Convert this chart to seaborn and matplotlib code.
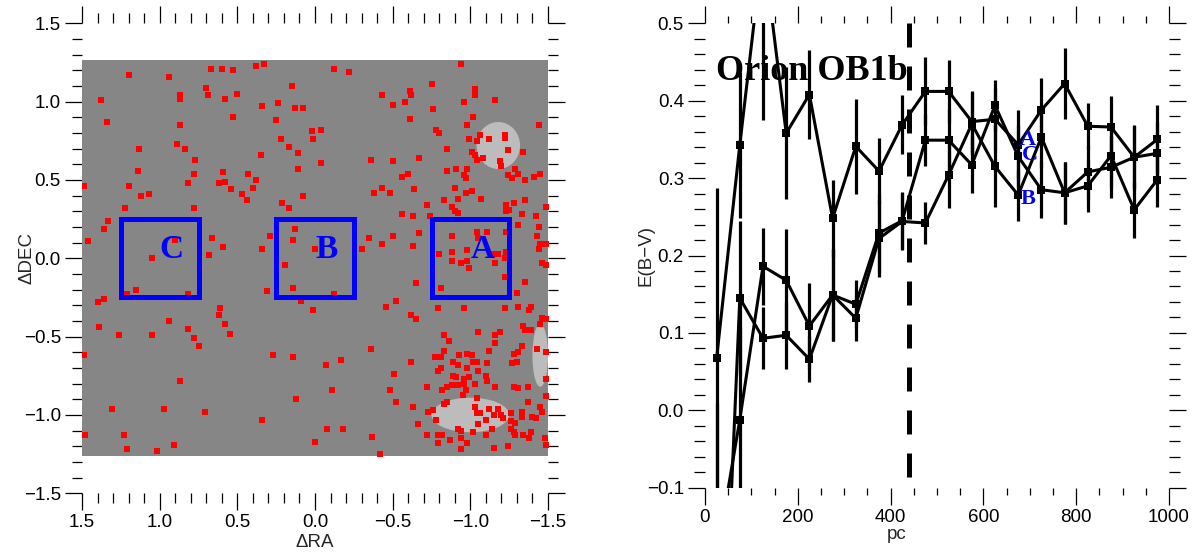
import matplotlib
matplotlib.use("Agg")
import matplotlib.pyplot as plt
import seaborn as sns
import pandas as pd
from matplotlib.patches import Rectangle, Ellipse
from matplotlib.ticker import MultipleLocator, FuncFormatter

# ---------------- data: left panel ----------------
field_ra = [-1.5, 1.5]
field_dec = [-1.26, 1.265]
# low-density (sparse) patches in the star field
void_ra = [-1.18, -1.0, -1.45]
void_dec = [0.72, -1.0, -0.62]
void_w = [0.28, 0.5, 0.1]
void_h = [0.30, 0.22, 0.4]

red_ra = [
    1.20, 0.94, 0.67, 0.60, 0.53, 0.38, 0.33, 1.38, 1.34, 0.87, 0.87, 0.70, 0.69, 0.58, 0.50, 0.34, 0.24, 0.15, 0.13, 0.08,
    0.53, 0.25, 0.87, 0.02, 0.01, 0.89, 0.84, 1.13, 0.77, 0.22, 0.17, 0.11, 0.35, 1.14, 0.78, 0.59, 0.43, 0.38, 0.11, 1.49,
    1.20, 0.82, 0.62, 0.58, 0.40, 0.54, 0.47, 0.44, 1.07, 1.12, 0.08, 1.22, 0.78, 0.21, 0.17, 1.33, 1.36, 1.46, 0.90, 0.66,
    0.59, 0.68, 0.34, 0.29, 0.13, 0.14, 1.05,
    -0.12, -0.22, -0.94, -0.75, -1.03, -1.03, -0.43, -0.61, -0.62, -0.50, -0.58, -0.76, -0.96, -1.16, -0.61, -1.02, -0.98,
    -1.44, -0.04, -0.78, -0.80, -0.99, -1.04, -1.06, -1.12, -1.22, -1.22, -0.85, -1.01, -1.03, -1.04, -1.08, -1.24, -1.34,
    -0.04, -0.36, -0.50, -0.67, -1.19, -1.20, -1.29, -0.85, -0.91, -0.98, -0.96, -0.97, -1.24, -1.27, -1.31, -1.35, -1.41,
    -1.45, -0.60, -0.56, -0.43, -0.38, -0.48, -0.64, -0.90, -0.97, -1.01, -0.92, -1.07, -0.83, -0.72, -0.88, -0.90, -0.92,
    -1.23, -1.25, -1.28, -1.35, -1.33, -1.23, -1.49, -0.56, -0.63, -0.74, -1.42, -1.31, -1.44, -0.67, -0.50, -0.35, -0.43,
    -0.63, -0.30, 0.00, -0.88, -1.04, -1.11, -1.23, -1.43, -1.45, -1.49, -1.44, -0.80, -0.88, -0.98, -1.14, -1.18, -1.23,
    -1.05,
    1.15, 1.21, 1.36, 1.40, 0.82, 0.61, 0.62, 0.58, 0.55, 1.39, 1.26, 1.05, 0.94, 0.82, 0.78, 0.75, 1.49, 0.19, 0.14, 0.31,
    0.09, 0.01, 0.27, 0.14, 0.87, 0.12, 1.31, 0.97, 0.71, 0.34, 1.48, 1.23, 0.91, 1.21, 1.02, 0.00,
    -0.94, -0.98, -0.99, -1.16, -1.22, -0.88, -1.22, -0.81, -0.65, -1.46, -1.49, -1.35, -1.30, -0.12, -0.52, -0.46, -0.62,
    -0.65, -0.79, -0.96, -1.22, -1.31, -1.38, -1.39, -1.46, -1.49, -1.45, -1.34, -1.35, -1.39, -1.05, -1.16, -1.19, -0.83,
    -0.86, -1.16, -1.33, -0.36, -0.83, -1.12, -1.43, -1.49, -1.28, -1.31, -0.77, -0.81, -0.93, -0.98, -1.01, -0.89, -1.02,
    -1.04, -1.11, -1.27, -1.30, -0.07, -0.17, -0.62, -0.81, -0.79, -0.92, -0.98, -1.05, -0.89, -0.91, -0.96, -0.99, -0.96,
    -1.10, -1.11, -1.03, -0.51, -0.85, -0.82, -0.88, -0.92, -0.97, -0.95, -1.16, -1.28, -1.31, -1.37, -1.49, -1.49, -0.48,
    -0.11, -0.72, -0.52, -0.63, -0.83, -0.85, -1.04, -1.37, -0.73, -0.76, -0.78, -1.03, -1.04, -1.06, -1.12, -1.18, -1.15,
    -1.10, -1.20, -1.21, -1.26, -1.26, -1.29, -1.33, -1.33, -1.40, -1.42, -1.45, -1.46, -0.66, -0.92, -0.94, -1.05, -1.02,
    -1.14, -1.26, -1.28, -1.29, -1.34, -1.39, -1.38, -1.48, -1.49, -0.72, -0.79, -0.82, -0.87, -0.79, -0.94, -0.98, -1.10,
    -0.94, -1.15, -1.24, -0.37, -0.42, -0.08, -0.18,
]
red_dec = [
    1.17, 1.16, 1.21, 1.21, 1.20, 1.23, 1.24, 1.01, 0.87, 1.04, 1.02, 1.09, 1.04, 1.02, 1.05, 0.97, 0.99, 1.10, 0.96, 0.96,
    0.90, 0.88, 0.85, 0.81, 0.76, 0.73, 0.70, 0.70, 0.63, 0.76, 0.71, 0.67, 0.66, 0.56, 0.54, 0.55, 0.54, 0.50, 0.57, 0.46,
    0.46, 0.48, 0.48, 0.49, 0.45, 0.44, 0.41, 0.37, 0.41, 0.40, 0.40, 0.32, 0.32, 0.35, 0.32, 0.24, 0.19, 0.11, 0.12, 0.13,
    0.07, 0.02, 0.06, 0.14, 0.19, 0.12, 0.00,
    1.21, 1.19, 1.24, 1.11, 1.08, 1.04, 1.04, 1.07, 1.04, 0.98, 1.00, 0.95, 1.00, 1.01, 0.89, 0.90, 0.85,
    0.85, 0.82, 0.82, 0.80, 0.76, 0.75, 0.79, 0.76, 0.77, 0.79, 0.70, 0.68, 0.66, 0.63, 0.64, 0.69, 0.68,
    0.61, 0.63, 0.62, 0.64, 0.62, 0.59, 0.57, 0.56, 0.57, 0.57, 0.53, 0.51, 0.53, 0.51, 0.54, 0.50, 0.52,
    0.54, 0.54, 0.52, 0.45, 0.42, 0.42, 0.44, 0.45, 0.42, 0.43, 0.38, 0.38, 0.37, 0.34, 0.33, 0.30, 0.29,
    0.34, 0.31, 0.35, 0.37, 0.28, 0.30, 0.33, 0.28, 0.27, 0.27, 0.27, 0.21, 0.20, 0.16, 0.14, 0.13, 0.09,
    0.08, 0.06, 0.06, 0.14, 0.17, 0.17, 0.17, 0.14, 0.09, 0.09, 0.06, 0.03, 0.04, 0.05, 0.03, 0.03, 0.04,
    0.13,
    -0.20, -0.23, -0.26, -0.28, -0.23, -0.32, -0.36, -0.42, -0.48, -0.44, -0.49, -0.49, -0.40, -0.45, -0.51, -0.56, -0.62,
    -0.04, -0.19, -0.21, -0.27, -0.33, -0.62, -0.63, -0.78, -0.90, -0.96, -0.96, -0.98, -1.03, -1.13, -1.13, -1.19, -1.22,
    -1.23, -1.17,
    -0.03, -0.02, -0.06, -0.03, 0.00, -0.02, -0.12, -0.19, -0.16, -0.03, -0.04, -0.15, -0.22, -0.23, -0.27, -0.31, -0.36,
    -0.39, -0.32, -0.32, -0.32, -0.31, -0.33, -0.31, -0.38, -0.39, -0.42, -0.43, -0.46, -0.46, -0.47, -0.49, -0.47, -0.49,
    -0.53, -0.54, -0.56, -0.58, -0.59, -0.59, -0.58, -0.60, -0.61, -0.60, -0.63, -0.63, -0.62, -0.61, -0.62, -0.66, -0.66,
    -0.66, -0.67, -0.67, -0.66, -0.68, -0.65, -0.66, -0.70, -0.72, -0.68, -0.70, -0.72, -0.75, -0.76, -0.77, -0.76, -0.80,
    -0.75, -0.78, -0.80, -0.74, -0.82, -0.84, -0.81, -0.81, -0.84, -0.87, -0.82, -0.82, -0.83, -0.82, -0.77, -0.88, -0.84,
    -0.84, -0.82, -0.92, -0.95, -0.93, -0.92, -0.89, -0.92, -0.98, -0.97, -1.03, -0.95, -0.99, -0.99, -0.96, -0.96, -1.00,
    -1.03, -1.00, -1.02, -0.99, -1.04, -1.05, -0.98, -1.01, -1.01, -1.02, -0.95, -0.98, -1.06, -1.09, -1.10, -1.06, -1.11,
    -1.09, -1.09, -1.11, -1.13, -1.13, -1.11, -1.15, -1.15, -1.19, -1.13, -1.13, -1.13, -1.16, -1.18, -1.15, -1.18, -1.13,
    -1.22, -1.21, -1.20, -1.14, -1.25, -1.09, -1.09,
]

box_names = ["A", "B", "C"]
box_ra = [-1.0, 0.0, 1.0]
box_dec = [0.0, 0.0, 0.0]
box_half = 0.25

# ---------------- data: right panel ----------------
pc = [25, 75, 125, 175, 225, 275, 325, 375, 425, 475, 525, 575, 625, 675, 725, 775, 825, 875, 925, 975]
ebv_A = [0.067, 0.343, 0.600, 0.358, 0.408, 0.248, 0.341, 0.309, 0.369, 0.412,
         0.412, 0.373, 0.376, 0.343, 0.388, 0.422, 0.367, 0.366, 0.327, 0.350]
err_A = [0.220, 0.094, 0.225, 0.085, 0.058, 0.050, 0.061, 0.043, 0.038, 0.044,
         0.041, 0.040, 0.040, 0.045, 0.041, 0.046, 0.030, 0.040, 0.042, 0.044]
ebv_C = [-0.550, 0.145, 0.093, 0.097, 0.066, 0.149, 0.137, 0.229, 0.245, 0.349,
         0.349, 0.317, 0.394, 0.328, 0.285, 0.281, 0.308, 0.314, 0.327, 0.332]
err_C = [0.200, 0.100, 0.040, 0.043, 0.030, 0.060, 0.031, 0.050, 0.037, 0.034,
         0.040, 0.036, 0.033, 0.040, 0.037, 0.040, 0.035, 0.040, 0.040, 0.040]
ebv_B = [-0.190, -0.012, 0.186, 0.168, 0.109, 0.149, 0.119, 0.222, 0.244, 0.242,
         0.304, 0.370, 0.315, 0.278, 0.353, 0.281, 0.290, 0.329, 0.259, 0.298]
err_B = [0.200, 0.120, 0.050, 0.066, 0.055, 0.060, 0.030, 0.050, 0.037, 0.027,
         0.042, 0.040, 0.052, 0.033, 0.040, 0.040, 0.034, 0.040, 0.036, 0.035]
series_names = ["A", "C", "B"]
label_pc = [679, 682, 680]
label_ebv = [0.343, 0.324, 0.267]
cloud_distance = 440
title_text = "Orion OB1b"

# ---------------- figure ----------------
sns.set_style("white")
plt.rcParams["font.family"] = ["Liberation Sans", "DejaVu Sans"]

W, H = 1199, 552
fig = plt.figure(figsize=(W / 100, H / 100), dpi=100)
axL = fig.add_axes([82 / W, (H - 493.3) / H, 466 / W, 470 / H])
axR = fig.add_axes([705 / W, (H - 487.7) / H, 464 / W, 464.4 / H])

minus = FuncFormatter(lambda v, p: ("%.1f" % v).replace("-", "\u2212"))
intfmt = FuncFormatter(lambda v, p: ("%d" % round(v)).replace("-", "\u2212"))


def style(ax, xmaj, xmin, ymaj, ymin, xminlen, yminlen):
    for s in ax.spines.values():
        s.set_visible(False)
    ax.xaxis.set_major_locator(MultipleLocator(xmaj))
    ax.xaxis.set_minor_locator(MultipleLocator(xmin))
    ax.yaxis.set_major_locator(MultipleLocator(ymaj))
    ax.yaxis.set_minor_locator(MultipleLocator(ymin))
    ax.tick_params(which="both", direction="out", top=True, right=True,
                   bottom=True, left=True, width=0.9, color="black",
                   labelsize=13.5, labelcolor="black")
    ax.tick_params(which="major", length=12.2, pad=3)
    ax.tick_params(axis="x", which="minor", length=xminlen)
    ax.tick_params(axis="y", which="minor", length=yminlen)
    ax.grid(False)
    ax.set_facecolor("white")


# ----- left panel -----
axL.add_patch(Rectangle((field_ra[0], field_dec[0]), field_ra[1] - field_ra[0],
                        field_dec[1] - field_dec[0], facecolor="#868686",
                        linewidth=0, zorder=1))
for vr, vd, vw, vh in zip(void_ra, void_dec, void_w, void_h):
    axL.add_patch(Ellipse((vr, vd), vw, vh, facecolor="white", alpha=0.45,
                          linewidth=0, zorder=1.5))
red_df = pd.DataFrame({"ra": red_ra, "dec": red_dec})
sns.scatterplot(data=red_df, x="ra", y="dec", marker="s", color="#ff0000",
                s=22, linewidth=0, ax=axL, zorder=3, legend=False)
for name, br, bd in zip(box_names, box_ra, box_dec):
    axL.add_patch(Rectangle((br - box_half, bd - box_half), 2 * box_half, 2 * box_half,
                            fill=False, edgecolor="#0000ff", linewidth=3.6, zorder=4))
    axL.text(br, bd, name, color="#0000ff", fontsize=24, fontweight="bold",
             family=["Liberation Serif", "DejaVu Serif"], ha="left",
             va="baseline", zorder=5)
axL.set_xlim(1.5, -1.5)
axL.set_ylim(-1.5, 1.5)
style(axL, 0.5, 0.1, 0.5, 0.1, 7.2, 7.2)
axL.xaxis.set_major_formatter(minus)
axL.yaxis.set_major_formatter(minus)
axL.set_xlabel("\u0394RA", fontsize=13.5, labelpad=2)
axL.set_ylabel("\u0394DEC", fontsize=13.5)
axL.yaxis.set_label_coords(-0.10, 0.5)

# ----- right panel -----
for vals, errs in [(ebv_A, err_A), (ebv_C, err_C), (ebv_B, err_B)]:
    df = pd.DataFrame({"pc": pc, "ebv": vals})
    axR.errorbar(pc, vals, yerr=errs, fmt="none", ecolor="black",
                 elinewidth=2.3, capsize=0, zorder=2)
    sns.lineplot(data=df, x="pc", y="ebv", color="black", linewidth=2.2,
                 marker="s", markersize=6, markeredgewidth=0, sort=False,
                 estimator=None, ax=axR, zorder=3)
axR.plot([cloud_distance, cloud_distance], [0.5, -0.1], color="black",
         linewidth=3.6, dashes=(4.8, 3.8), solid_capstyle="butt",
         dash_capstyle="butt", zorder=4)
for name, lx, ly in zip(series_names, label_pc, label_ebv):
    axR.text(lx, ly, name, color="#0000ff", fontsize=16, fontweight="bold",
             family=["Liberation Serif", "DejaVu Serif"], ha="left",
             va="baseline", zorder=5)
axR.text(24, 0.4267, title_text, color="black", fontsize=26, fontweight="bold",
         family=["Liberation Serif", "DejaVu Serif"], ha="left",
         va="baseline", zorder=5)
axR.set_xlim(0, 1000)
axR.set_ylim(-0.1, 0.5)
style(axR, 200, 50, 0.1, 0.02, 5.0, 8.0)
axR.xaxis.set_major_formatter(intfmt)
axR.yaxis.set_major_formatter(minus)
axR.set_xlabel("pc", fontsize=13.5, labelpad=0, x=0.414)
axR.set_ylabel("E(B\u2212V)", fontsize=13.5)
axR.yaxis.set_label_coords(-0.108, 0.5)

fig.savefig("out.png", dpi=100)
